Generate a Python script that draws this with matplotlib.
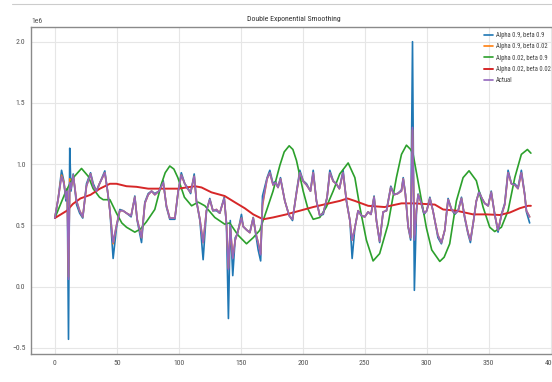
import matplotlib
matplotlib.use("Agg")
import matplotlib.pyplot as plt
from matplotlib.lines import Line2D
from matplotlib import font_manager

# ---- data (values in units of 1e6) ----
x_act = [0, 2.7, 5.4, 7.3, 8.9, 10.0, 11.0, 12.0, 13.0, 14.8, 17.5, 20.0, 22.5, 25.5, 28.8,
         31.0, 33.5, 36.0, 40.3, 42.5, 44.4, 47.0, 49.7, 52.4, 55.0, 57.8, 61.5, 64.5, 66.4,
         69.9, 72.6, 75.3, 78.0, 80.6, 84.0, 87.4, 90.0, 92.7, 96.8, 99.5, 102.0, 104.8, 107.0,
         109.5, 112.4, 114.2, 117.0, 119.6, 122.3, 125.0, 127.5, 130.4, 133.0, 136.6, 138.4,
         140.0, 141.5, 143.5, 145.5, 147.3, 150.5, 152.0, 155.0, 157.3, 160.0, 162.0, 164.0,
         166.0, 167.5, 171.2, 173.4, 176.0, 178.0, 180.0, 182.0, 185.5, 189.0, 191.7, 195.0,
         197.6, 200.3, 203.0, 206.2, 208.4, 211.0, 213.7, 216.5, 219.6, 221.8, 224.5, 227.0,
         229.5, 232.5, 235.2, 238.0, 239.8, 242.0, 244.6, 247.3, 250.0, 252.7, 255.0, 257.5,
         259.4, 262.0, 264.8, 267.5, 271.0, 273.6, 276.5, 279.6, 281.0, 282.8, 285.0, 287.0,
         288.5, 290.0, 291.7, 293.0, 295.0, 297.8, 300.0, 302.5, 305.0, 306.5, 309.0, 311.8,
         314.5, 317.2, 320.0, 322.6, 325.3, 328.0, 330.6, 333.3, 335.2, 337.5, 340.0, 342.2,
         344.5, 346.8, 349.5, 352.0, 354.8, 357.5, 360.2, 362.9, 365.6, 368.3, 371.0, 373.6,
         376.3, 379.0, 380.4, 383.0]

actual = [0.56, 0.72, 0.90, 0.84, 0.72, 0.78, 0.06, 0.85, 0.80, 0.91, 0.70, 0.62, 0.57, 0.82, 0.92,
          0.82, 0.78, 0.84, 0.93, 0.78, 0.62, 0.36, 0.50, 0.62, 0.62, 0.60, 0.58, 0.73, 0.55,
          0.40, 0.68, 0.75, 0.78, 0.75, 0.78, 0.85, 0.66, 0.56, 0.56, 0.78, 0.91, 0.84, 0.80,
          0.77, 0.90, 0.70, 0.55, 0.36, 0.62, 0.71, 0.62, 0.63, 0.60, 0.72, 0.52,
          0.14, 0.50, 0.23, 0.38, 0.44, 0.56, 0.49, 0.46, 0.44, 0.56, 0.44, 0.36,
          0.26, 0.68, 0.88, 0.93, 0.83, 0.85, 0.81, 0.88, 0.70, 0.58, 0.55, 0.77,
          0.93, 0.86, 0.83, 0.78, 0.93, 0.70, 0.58, 0.60, 0.73, 0.93, 0.86, 0.84,
          0.80, 0.93, 0.70, 0.54, 0.38, 0.48, 0.62, 0.58, 0.57, 0.61, 0.59, 0.73,
          0.54, 0.37, 0.61, 0.62, 0.81, 0.75, 0.76, 0.78, 0.88, 0.75, 0.49, 0.40,
          1.30, 0.38, 0.62, 0.75, 0.70, 0.60, 0.62, 0.72, 0.62, 0.54, 0.42, 0.36,
          0.46, 0.71, 0.63, 0.60, 0.62, 0.72, 0.57, 0.44, 0.38, 0.52, 0.70, 0.77,
          0.72, 0.68, 0.66, 0.77, 0.59, 0.46, 0.58, 0.67, 0.93, 0.84, 0.83, 0.80,
          0.93, 0.75, 0.62, 0.57]

blue_a09_b09 = [0.56, 0.72, 0.95, 0.86, 0.70, 0.80, -0.43, 1.13, 0.78, 0.92, 0.67, 0.60, 0.56, 0.84, 0.93,
                0.84, 0.78, 0.84, 0.945, 0.78, 0.62, 0.23, 0.48, 0.63, 0.62, 0.60, 0.57, 0.74, 0.54,
                0.36, 0.69, 0.76, 0.78, 0.76, 0.78, 0.865, 0.65, 0.55, 0.55, 0.78, 0.93, 0.84, 0.81,
                0.76, 0.92, 0.70, 0.54, 0.22, 0.62, 0.72, 0.62, 0.62, 0.60, 0.73, 0.51,
                -0.26, 0.54, 0.09, 0.40, 0.43, 0.59, 0.49, 0.46, 0.445, 0.565, 0.43, 0.30,
                0.21, 0.74, 0.89, 0.95, 0.84, 0.86, 0.81, 0.89, 0.70, 0.58, 0.54, 0.78,
                0.95, 0.865, 0.84, 0.78, 0.95, 0.70, 0.58, 0.59, 0.73, 0.95, 0.865, 0.84,
                0.80, 0.95, 0.70, 0.54, 0.23, 0.48, 0.62, 0.58, 0.57, 0.61, 0.59, 0.74,
                0.54, 0.36, 0.61, 0.62, 0.82, 0.756, 0.76, 0.79, 0.89, 0.756, 0.485, 0.38,
                2.00, -0.03, 0.62, 0.756, 0.70, 0.59, 0.62, 0.73, 0.62, 0.54, 0.40, 0.35,
                0.46, 0.72, 0.63, 0.59, 0.62, 0.73, 0.56, 0.43, 0.36, 0.52, 0.70, 0.78,
                0.72, 0.68, 0.66, 0.78, 0.59, 0.445, 0.59, 0.68, 0.95, 0.84, 0.84, 0.81,
                0.95, 0.756, 0.61, 0.52]

orange_a09_b002 = [0.56, 0.72, 0.91, 0.85, 0.72, 0.78, 0.08, 0.88, 0.80, 0.91, 0.70, 0.62, 0.57, 0.82, 0.92,
                   0.82, 0.78, 0.84, 0.93, 0.78, 0.62, 0.35, 0.50, 0.62, 0.62, 0.60, 0.58, 0.73, 0.55,
                   0.40, 0.68, 0.75, 0.78, 0.75, 0.78, 0.85, 0.66, 0.56, 0.56, 0.78, 0.91, 0.84, 0.80,
                   0.77, 0.90, 0.70, 0.55, 0.36, 0.62, 0.71, 0.62, 0.63, 0.60, 0.72, 0.52,
                   0.15, 0.48, 0.24, 0.38, 0.44, 0.56, 0.49, 0.46, 0.44, 0.56, 0.44, 0.36,
                   0.27, 0.66, 0.88, 0.93, 0.83, 0.85, 0.81, 0.88, 0.70, 0.58, 0.55, 0.77,
                   0.93, 0.86, 0.83, 0.78, 0.93, 0.70, 0.58, 0.60, 0.73, 0.93, 0.86, 0.84,
                   0.80, 0.93, 0.70, 0.54, 0.38, 0.48, 0.62, 0.58, 0.57, 0.61, 0.59, 0.73,
                   0.54, 0.37, 0.61, 0.62, 0.81, 0.75, 0.76, 0.78, 0.88, 0.75, 0.49, 0.40,
                   1.28, 0.42, 0.62, 0.75, 0.70, 0.60, 0.62, 0.72, 0.62, 0.54, 0.42, 0.36,
                   0.46, 0.71, 0.63, 0.60, 0.62, 0.72, 0.57, 0.44, 0.38, 0.52, 0.70, 0.77,
                   0.72, 0.68, 0.66, 0.77, 0.59, 0.46, 0.58, 0.67, 0.93, 0.84, 0.83, 0.80,
                   0.93, 0.75, 0.62, 0.57]

x_green = [0, 8.1, 14, 21.5, 27, 30.9, 36, 39, 44.4, 49.7, 54, 57.8, 64.5, 69, 73.9, 80.6, 86,
           89, 92.7, 96, 99.2, 104.5, 110.3, 115.6, 121, 129, 137, 141, 147.8, 154.6, 160, 165.3,
           170.7, 176, 181.5, 185, 189, 192, 194.9, 200.3, 204.3, 208.4, 213.7, 219, 224.5, 229.8,
           236.6, 242, 246, 251.3, 256.7, 262, 268.8, 275.5, 279.6, 283.6, 287, 289, 294.4, 299.7,
           304, 310.5, 314, 318.5, 323.9, 329.3, 334.1, 340, 345.4, 350.8, 354.8, 360.2, 365.6,
           371, 376.3, 381.2, 384]
green_a002_b09 = [0.56, 0.76, 0.88, 0.965, 0.90, 0.80, 0.73, 0.71, 0.71, 0.60, 0.52, 0.485, 0.445,
                  0.47, 0.53, 0.63, 0.84, 0.93, 0.985, 0.96, 0.89, 0.73, 0.66, 0.69, 0.66, 0.565,
                  0.51, 0.52, 0.42, 0.35, 0.40, 0.46, 0.62, 0.78, 0.99, 1.10, 1.15, 1.12, 1.03,
                  0.78, 0.63, 0.55, 0.565, 0.65, 0.78, 0.92, 1.01, 0.89, 0.65, 0.38, 0.21, 0.27,
                  0.51, 0.89, 1.08, 1.155, 1.12, 1.08, 0.78, 0.48, 0.30, 0.206, 0.24, 0.35, 0.70,
                  0.89, 0.946, 0.865, 0.65, 0.485, 0.45, 0.485, 0.62, 0.89, 1.08, 1.12, 1.09]

x_red = [0, 9.7, 14.5, 20.6, 28.8, 36.3, 44.4, 49.7, 57.8, 65.9, 75.3, 86, 99.5, 113, 118.3,
         126.3, 137, 145, 153.2, 160, 168, 176, 186.8, 197.6, 208.4, 219, 229.8, 236, 242,
         252.7, 266, 279.6, 290, 306.5, 313.2, 323.9, 337.4, 348.1, 358.9, 367, 375, 381.7, 384]
red_a002_b002 = [0.56, 0.62, 0.675, 0.72, 0.75, 0.80, 0.84, 0.84, 0.82, 0.815, 0.80, 0.80, 0.80,
                 0.82, 0.81, 0.77, 0.74, 0.69, 0.64, 0.59, 0.55, 0.565, 0.59, 0.62, 0.65, 0.675,
                 0.70, 0.72, 0.70, 0.66, 0.65, 0.68, 0.68, 0.67, 0.63, 0.62, 0.59, 0.59, 0.585,
                 0.605, 0.64, 0.66, 0.66]

labels = ["Alpha 0.9, beta 0.9", "Alpha 0.9, beta 0.02", "Alpha 0.02, beta 0.9",
          "Alpha 0.02, beta 0.02", "Actual"]
title = "Double Exponential Smoothing"

plt.style.use("seaborn-v0_8-whitegrid")

# pick a narrow font if one is installed
narrow = None
for cand in ["Liberation Sans Narrow", "DejaVu Sans Condensed", "Roboto Condensed",
             "Open Sans Condensed", "Noto Sans Condensed"]:
    try:
        font_manager.findfont(font_manager.FontProperties(family=cand), fallback_to_default=False)
        narrow = cand
        break
    except Exception:
        pass
if narrow is None:
    plt.rcParams['font.family'] = ['DejaVu Sans']
    k = 0.8
else:
    plt.rcParams['font.family'] = [narrow, 'DejaVu Sans']
    k = 1.0

fig = plt.figure(figsize=(5.52, 3.82), dpi=100)
ax = fig.add_axes([31 / 552, 28 / 382, 525 / 552, 327 / 382])

s = 1e6
lw = 1.2
ax.plot(x_act, [v * s for v in blue_a09_b09], color="#1f77b4", lw=lw, label=labels[0])
ax.plot(x_act, [v * s for v in orange_a09_b002], color="#ff7f0e", lw=lw, label=labels[1])
ax.plot(x_green, [v * s for v in green_a002_b09], color="#2ca02c", lw=lw, label=labels[2])
ax.plot(x_red, [v * s for v in red_a002_b002], color="#d62728", lw=1.4, label=labels[3])
ax.plot(x_act, [v * s for v in actual], color="#9467bd", lw=lw, label=labels[4])

ax.set_xlim(-19.25, 404.25)
ax.set_ylim(-0.55e6, 2.12e6)
ax.set_xticks([0, 50, 100, 150, 200, 250, 300, 350, 400])
ax.set_yticks([-0.5e6, 0, 0.5e6, 1.0e6, 1.5e6, 2.0e6])
ax.tick_params(labelsize=5.6 * k, colors="#555555", pad=4)
ax.yaxis.get_offset_text().set_fontsize(5.6 * k)
ax.yaxis.get_offset_text().set_color("#555555")
ax.grid(True, color="#e6e6e6", lw=0.8)
for side in ["left", "bottom", "top", "right"]:
    ax.spines[side].set_visible(True)
    ax.spines[side].set_color("#8a8a8a")
    ax.spines[side].set_linewidth(1.0)
ax.set_title(title, fontsize=5.6 * k, color="#333333", pad=4)

leg = ax.legend(loc="upper right", fontsize=4.8 * k, frameon=False, handlelength=1.3,
                handletextpad=0.5, labelspacing=0.65, borderaxespad=0.35)
for t in leg.get_texts():
    t.set_color("#444444")

fig.add_artist(Line2D([12 / 552, 1.0], [1 - 4 / 382, 1 - 4 / 382], transform=fig.transFigure,
                      color="#cccccc", lw=0.8))

fig.savefig("out.png", dpi=100)
